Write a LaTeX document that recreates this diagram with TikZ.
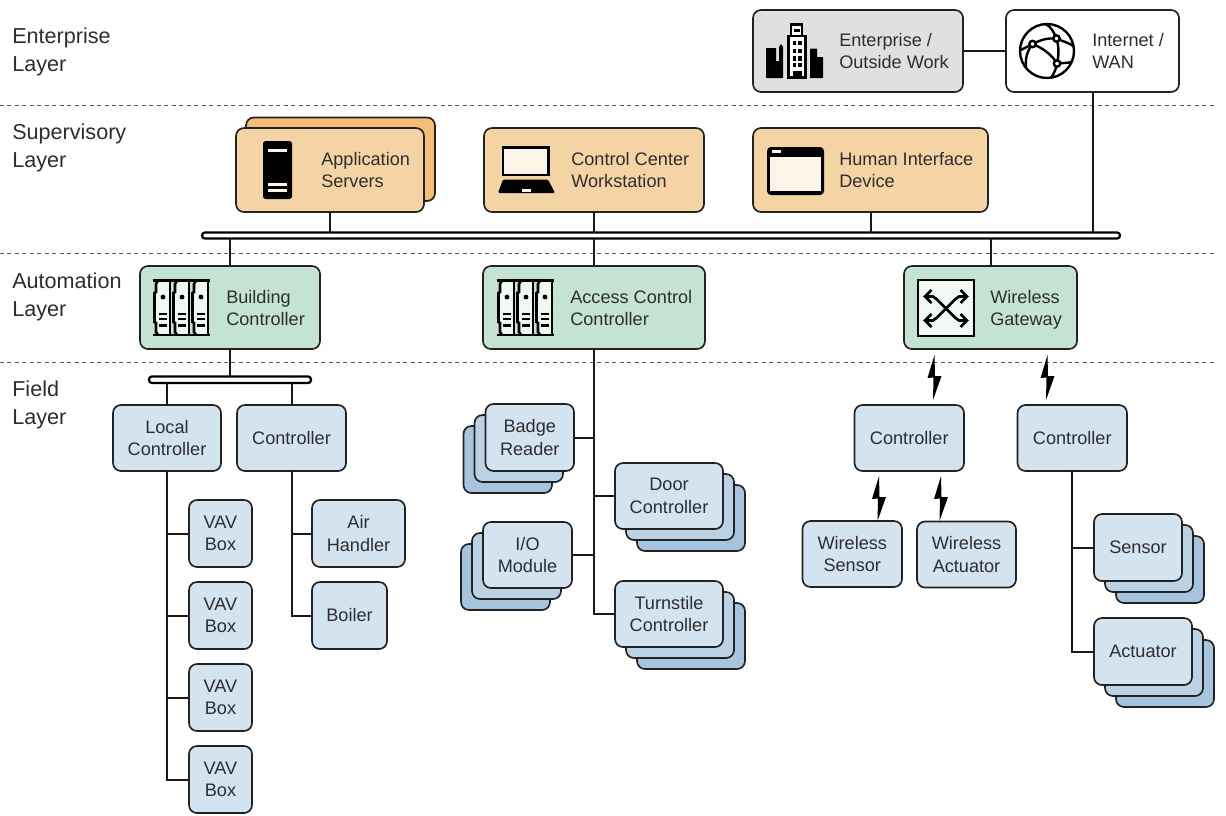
\documentclass[tikz,border=0pt]{standalone}
\usepackage{fontspec}
\setmainfont{Liberation Sans}
\definecolor{txt}{HTML}{2E2E2E}
\definecolor{edge}{HTML}{222222}
\definecolor{fieldA}{HTML}{D3E3F0}
\definecolor{fieldB}{HTML}{BBD1E4}
\definecolor{fieldC}{HTML}{A6C4DD}
\definecolor{orangeA}{HTML}{F4D3A4}
\definecolor{orangeB}{HTML}{F2BE76}
\definecolor{greenA}{HTML}{C4E3D3}
\definecolor{greyA}{HTML}{E0E0E0}
\definecolor{creamA}{HTML}{FDF4E8}
\definecolor{mintA}{HTML}{EFF8F4}
\tikzset{
  basebox/.style={draw=edge,line width=1.25pt,rounded corners=6pt,inner sep=0pt,outer sep=0pt,align=center,
    text=txt,font=\fontsize{13.6}{16.9}\selectfont},
  fa/.style={basebox,fill=fieldA},
  fb/.style={basebox,fill=fieldB},
  fc/.style={basebox,fill=fieldC},
  oa/.style={basebox,fill=orangeA},
  ob/.style={basebox,fill=orangeB},
  ga/.style={basebox,fill=greenA},
  gr/.style={basebox,fill=greyA},
  wh/.style={basebox,fill=white},
  busbar/.style={draw=black,fill=white,line width=1.7pt,rounded corners=2.2pt,inner sep=0pt,outer sep=0pt},
  wire/.style={draw=black!90,line width=1.5pt},
  layerdash/.style={draw=black!65,line width=0.75pt,dash pattern=on 3pt off 2.6pt},
  lbl/.style={anchor=west,align=left,inner sep=0pt,text=txt,font=\fontsize{13.6}{16.9}\selectfont},
  layerlbl/.style={anchor=west,align=left,inner sep=0pt,text=txt,font=\fontsize{16.2}{20.5}\selectfont},
}
\newcommand\bx[7]{\node[#6,minimum width={(#4-#2)*0.75pt},minimum height={(#5-#3)*0.75pt}] (#1) at ({(#2+#4)/2},{(#3+#5)/2}) {#7};}
\newcommand\iconBolt[2]{\fill[black,shift={(#1,#2)}] (0,0) -- (-7,23) -- (-1,22.5) -- (-1.5,45) -- (7,21) -- (0.5,21) -- cycle;}
\newcommand\iconCity[2]{\begin{scope}[shift={(#1,#2)}]
  \fill[black] (0,24) -- (10,24) -- (10,37) -- (13,37) -- (13,23) -- (15,20) -- (17,23) -- (17,54) -- (0,54) -- cycle;
  \fill[black] (44,24.7) -- (51,24.7) -- (51,33) -- (57,33) -- (57,54) -- (44,54) -- cycle;
  \draw[black,line width=1.6pt,fill=white] (22.5,12) rectangle (39.5,53.5);
  \draw[black,line width=1.6pt,fill=white] (25,0.5) rectangle (36,12);
  \fill[black] (27.5,4.5) rectangle (33.5,7.5);
  \foreach \yy in {17,24.7,32.3,39} {\fill[black] (26.5,\yy) rectangle (30.3,\yy+4.4); \fill[black] (31.7,\yy) rectangle (35.5,\yy+4.4);}
  \fill[black] (26.5,47) rectangle (35.5,54);
\end{scope}}
\newcommand\iconGlobe[2]{\begin{scope}[shift={(#1,#2)},line width=1.8pt,draw=black]
  \draw (0,0) circle (27);
  \draw (-14.5,-7) .. controls (-5,-12) and (2,-13) .. (9.5,-12.5);
  \draw (-14.5,-7) .. controls (-4,-3) and (5,4) .. (10,12.5);
  \draw (-14.5,-7) .. controls (-20,0) and (-22,8) .. (-21,17);
  \draw (-14.5,-7) -- (-26,-1);
  \draw (9.5,-12.5) .. controls (12,-4) and (12,4) .. (10,12.5);
  \draw (9.5,-12.5) .. controls (7,-18) and (5,-24) .. (-2,-27);
  \draw (9.5,-12.5) .. controls (15,-10) and (22,-8) .. (26.5,-5);
  \draw (10,12.5) .. controls (16,12) and (21,12) .. (24.5,11);
  \draw (10,12.5) .. controls (9,18) and (7,23) .. (4,26.5);
  \draw[fill=white] (-14.5,-7) circle (3.2);
  \draw[fill=white] (9.5,-12.5) circle (3.2);
  \draw[fill=white] (10,12.5) circle (3.2);
\end{scope}}
\newcommand\iconServer[2]{\begin{scope}[shift={(#1,#2)}]
  \fill[black,rounded corners=2pt] (0,0) rectangle (29,58);
  \fill[creamA] (5,8) rectangle (24,11);
  \fill[creamA] (5,42) rectangle (24,45);
  \fill[creamA] (5,48) rectangle (24,51);
\end{scope}}
\newcommand\iconLaptop[2]{\begin{scope}[shift={(#1,#2)}]
  \draw[black,line width=1.8pt,fill=creamA] (5,1) rectangle (50.5,28.5);
  \fill[black,rounded corners=1pt] (5,33) -- (50,33) -- (57,46.5) -- (0,46.5) -- cycle;
  \fill[creamA] (24,42) rectangle (33,45);
\end{scope}}
\newcommand\iconWindow[2]{\begin{scope}[shift={(#1,#2)}]
  \fill[black,rounded corners=3pt] (0,0) rectangle (57,48);
  \fill[creamA] (3,9.5) rectangle (54,44);
  \fill[creamA] (4.5,3) rectangle (14,5.5);
\end{scope}}
\newcommand\rackMod[1]{\begin{scope}[shift={(#1,0)}]
  \fill[mintA] (0,1) rectangle (14,56);
  \draw[black,line width=2pt] (2,1.5) -- (0,5) -- (0,13) -- (-1.5,14) -- (-1.5,43) -- (0,44) -- (0,53) -- (2,56);
  \draw[black,line width=1.1pt] (14,1.5) -- (14,56);
  \fill[black] (7,18) circle (2.4);
  \fill[black] (3,34) rectangle (11,36);
  \fill[black] (3,39) rectangle (11,41.3);
  \fill[black] (3,44.5) rectangle (11,47.5);
\end{scope}}
\newcommand\iconRack[2]{\begin{scope}[shift={(#1,#2)}]
  \rackMod{3}\rackMod{22}\rackMod{41}
  \draw[black,line width=2pt] (0,1.5) -- (57,1.5);
  \draw[black,line width=2pt] (0,56) -- (57,56);
\end{scope}}
\newcommand\iconSwitch[2]{\begin{scope}[shift={(#1,#2)}]
  \draw[black,line width=2pt,fill=mintA] (0,0) rectangle (56,56);
  \foreach \dx/\dy in {1/1,-1/1,1/-1,-1/-1} {
    \draw[black,line width=2pt,shift={(28,28.5)},xscale=\dx,yscale=\dy] (0,0) -- (9,9) -- (13,12) -- (20,12);
    \draw[black,line width=2pt,shift={(28,28.5)},xscale=\dx,yscale=\dy] (14.5,5.5) -- (21,12) -- (14.5,18.5);
  }
\end{scope}}
\begin{document}
\begin{tikzpicture}[x=0.75pt,y=-0.75pt]
\useasboundingbox (0,0) rectangle (1226,815);
\fill[white] (0,0) rectangle (1226,815);
% layer separators
\coordinate (d1a) at (0,105); \coordinate (d1b) at (1217,105);
\coordinate (d2a) at (0,253.5); \coordinate (d2b) at (1217,253.5);
\coordinate (d3a) at (0,362); \coordinate (d3b) at (1217,362);
\draw[layerdash] (d1a) -- (d1b);
\draw[layerdash] (d2a) -- (d2b);
\draw[layerdash] (d3a) -- (d3b);
% layer labels
\node[layerlbl] (l1) at (12,52) {Enterprise\\Layer};
\node[layerlbl] (l2) at (12,148) {Supervisory\\Layer};
\node[layerlbl] (l3) at (12,297) {Automation\\Layer};
\node[layerlbl] (l4) at (12,405) {Field\\Layer};
% enterprise
\bx{ent}{753}{10}{963}{92}{gr}{}
\bx{wan}{1006}{10}{1179}{92}{wh}{}
\iconCity{766}{24}
\iconGlobe{1047}{51}
\node[lbl] (entt) at (839,51) {Enterprise /\\Outside Work};
\node[lbl] (want) at (1092,51) {Internet /\\WAN};
% supervisory
\bx{appb}{246}{117.5}{435}{201}{ob}{}
\bx{app}{236}{128}{424}{212}{oa}{}
\bx{ccw}{484}{128}{704}{212}{oa}{}
\bx{hid}{753}{128}{988}{212}{oa}{}
\iconServer{263}{141}
\iconLaptop{498}{146.5}
\iconWindow{767}{147}
\node[lbl] (appt) at (321,170) {Application\\Servers};
\node[lbl] (ccwt) at (571,170) {Control Center\\Workstation};
\node[lbl] (hidt) at (839,170) {Human Interface\\Device};
% bus
\bx{bus}{202}{232.5}{1120}{238.5}{busbar}{}
% automation
\bx{bc}{140}{266}{320}{349}{ga}{}
\bx{acc}{483}{266}{705}{349}{ga}{}
\bx{gw}{904}{266}{1077}{349}{ga}{}
\iconRack{153}{279}
\iconRack{497}{279}
\iconSwitch{918}{280}
\node[lbl] (bct) at (226,308) {Building\\Controller};
\node[lbl] (acct) at (570,308) {Access Control\\Controller};
\node[lbl] (gwt) at (990,310) {Wireless\\Gateway};
% field bus
\bx{fbus}{149}{376.5}{311}{383}{busbar}{}
% left field group
\bx{loc}{113}{405}{221}{471}{fa}{Local\\Controller}
\bx{ctl}{237}{405}{346}{471}{fa}{Controller}
\bx{vava}{189}{500}{252}{567}{fa}{VAV\\Box}
\bx{vavb}{189}{582}{252}{649}{fa}{VAV\\Box}
\bx{vavc}{189}{664}{252}{731}{fa}{VAV\\Box}
\bx{vavd}{189}{746}{252}{813}{fa}{VAV\\Box}
\bx{air}{312}{500}{405}{567}{fa}{Air\\Handler}
\bx{boil}{312}{582}{387}{649}{fa}{Boiler}
% access field group
\bx{badc}{463.5}{426}{552}{493}{fc}{}
\bx{badb}{474.5}{415}{563}{482}{fb}{}
\bx{bad}{485.5}{404}{574}{471}{fa}{Badge\\Reader}
\bx{doorc}{637}{485}{745}{551}{fc}{}
\bx{doorb}{626}{474}{734}{540}{fb}{}
\bx{door}{615}{463}{723}{529}{fa}{Door\\Controller}
\bx{ioc}{461}{544}{550}{610}{fc}{}
\bx{iob}{472}{533}{561}{599}{fb}{}
\bx{io}{483}{522}{572}{588}{fa}{I/O\\Module}
\bx{turnc}{637}{603}{745}{669}{fc}{}
\bx{turnb}{626}{592}{734}{658}{fb}{}
\bx{turn}{615}{581}{723}{647}{fa}{Turnstile\\Controller}
% wireless field group
\bx{wc}{854.5}{405}{964}{471}{fa}{Controller}
\bx{wc2}{1017.5}{405}{1127}{471}{fa}{Controller}
\bx{ws}{802.5}{521}{902}{587}{fa}{Wireless\\Sensor}
\bx{wa}{917}{521.5}{1016}{587.5}{fa}{Wireless\\Actuator}
\bx{senc}{1116}{536}{1204}{603}{fc}{}
\bx{senb}{1105}{525}{1193}{592}{fb}{}
\bx{sen}{1094}{514}{1182}{581}{fa}{Sensor}
\bx{actc}{1116}{640}{1214}{707}{fc}{}
\bx{actb}{1105}{629}{1203}{696}{fb}{}
\bx{act}{1094}{618}{1192}{685}{fa}{Actuator}
% bolts
\iconBolt{934.5}{355}
\iconBolt{1047.5}{355}
\iconBolt{879}{476}
\iconBolt{941}{476}
% connectors
\draw[wire] (ent.east |- wan.west) -- (wan.west);
\draw[wire] (wan.south) -- (bus.north -| wan.south);
\draw[wire] (app.south) -- (bus.north -| app.south);
\draw[wire] (ccw.south) -- (bus.north -| ccw.south);
\draw[wire] (hid.south) -- (bus.north -| hid.south);
\draw[wire] (bc.north) -- (bus.south -| bc.north);
\draw[wire] (acc.north) -- (bus.south -| acc.north);
\draw[wire] (gw.north) -- (bus.south -| gw.north);
\draw[wire] (bc.south) -- (fbus.north -| bc.south);
\draw[wire] (loc.north) -- (fbus.south -| loc.north);
\draw[wire] (ctl.north) -- (fbus.south -| ctl.north);
\draw[wire] (loc.south) |- (vava.west);
\draw[wire] (loc.south) |- (vavb.west);
\draw[wire] (loc.south) |- (vavc.west);
\draw[wire] (loc.south) |- (vavd.west);
\draw[wire] (ctl.south) |- (air.west);
\draw[wire] (ctl.south) |- (boil.west);
\draw[wire] (acc.south) |- (turn.west);
\draw[wire] (acc.south) |- (door.west);
\draw[wire] (bad.east) -- (bad.east -| acc.south);
\draw[wire] (io.east) -- (io.east -| acc.south);
\draw[wire] (wc2.south) |- (sen.west);
\draw[wire] (wc2.south) |- (act.west);
\end{tikzpicture}
\end{document}
